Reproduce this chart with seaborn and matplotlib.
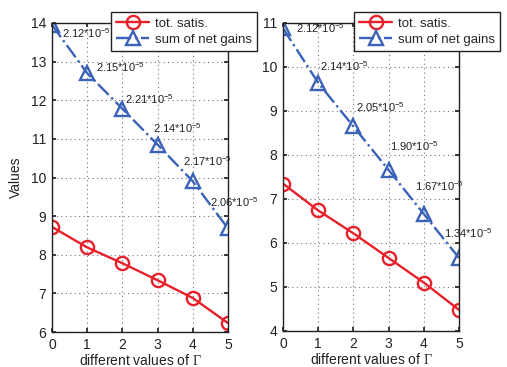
import matplotlib
matplotlib.use("Agg")
import matplotlib.pyplot as plt
import seaborn as sns
import pandas as pd

sns.set_theme(style="white")
plt.rcParams['font.family'] = ['Liberation Sans', 'DejaVu Sans']
plt.rcParams['mathtext.fontset'] = 'custom'
plt.rcParams['mathtext.rm'] = 'Liberation Serif'
plt.rcParams['mathtext.it'] = 'Liberation Serif:italic'

gamma = [0, 1, 2, 3, 4, 5]
left_satis = [8.72, 8.19, 7.78, 7.34, 6.88, 6.23]
left_gains = [13.95, 12.70, 11.78, 10.85, 9.90, 8.68]
left_labels = ["2.12", "2.15", "2.21", "2.14", "2.17", "2.06"]
right_satis = [7.35, 6.74, 6.22, 5.66, 5.10, 4.48]
right_gains = [10.88, 9.64, 8.65, 7.66, 6.66, 5.66]
right_labels = ["2.12", "2.14", "2.05", "1.90", "1.67", "1.34"]

red = '#E8202A'
blue = '#3A62B8'

fig = plt.figure(figsize=(5.07, 3.67), dpi=100)
W, H = 507, 367
ax1 = fig.add_axes([52 / W, 1 - 332 / H, 176 / W, 309 / H])
ax2 = fig.add_axes([283 / W, 1 - 331 / H, 176 / W, 308 / H])

panels = [
    (ax1, left_satis, left_gains, left_labels, (6, 14),
     [(7, -6), (6, 4), (2, 7), (-3, 12), (-7, 14), (-13, 19)], (111, 12)),
    (ax2, right_satis, right_gains, right_labels, (4, 11),
     [(9, 0), (1, 12), (2, 14), (1, 17), (-6, 20), (-11, 18)], (354, 12)),
]

for ax, satis, gains, labels, ylim, offs, legpos in panels:
    df = pd.DataFrame({'x': gamma, 'satis': satis, 'gains': gains})
    sns.lineplot(data=df, x='x', y='satis', ax=ax, color=red, lw=1.7,
                 marker='o', markersize=9.5, markerfacecolor='none',
                 markeredgecolor=red, markeredgewidth=1.7, label='tot. satis.')
    sns.lineplot(data=df, x='x', y='gains', ax=ax, color=blue, lw=1.7,
                 linestyle='-.', marker='^', markersize=9.5, markerfacecolor='none',
                 markeredgecolor=blue, markeredgewidth=1.7, label='sum of net gains')
    for xv, yv, lab, (dx, dy) in zip(gamma, gains, labels, offs):
        ax.annotate(lab + r"*10$^{\mathregular{-5}}$", (xv, yv), xytext=(dx, dy),
                    textcoords='offset points', fontsize=8, ha='left', va='center',
                    color='#222222', annotation_clip=False)
    ax.set_xlim(0, 5)
    ax.set_ylim(*ylim)
    ax.set_xticks(gamma)
    ax.set_yticks(range(ylim[0], ylim[1] + 1))
    ax.grid(True, linestyle=(0, (1, 3)), color='#777777', lw=0.8)
    ax.tick_params(direction='in', length=3, labelsize=10, colors='#222222',
                   bottom=True, left=True, top=True, right=True, pad=4)
    for s in ax.spines.values():
        s.set_color('#222222')
        s.set_linewidth(1.0)
    ax.set_xlabel(r"different values of $\Gamma$", fontsize=10, labelpad=1, color='#222222')
    ax.set_ylabel('')
    leg = ax.legend(loc='upper left', bbox_to_anchor=(legpos[0] / W, 1 - legpos[1] / H),
                    bbox_transform=fig.transFigure, fontsize=9.5, frameon=True,
                    fancybox=False, framealpha=1, edgecolor='#222222',
                    borderpad=0.4, labelspacing=0.3, handlelength=2.5,
                    handletextpad=0.4, borderaxespad=0)
    leg.get_frame().set_linewidth(1.0)
    leg.set_zorder(10)

ax1.set_ylabel('Values', fontsize=10, color='#222222', labelpad=6)

fig.savefig('out.png', dpi=100)
